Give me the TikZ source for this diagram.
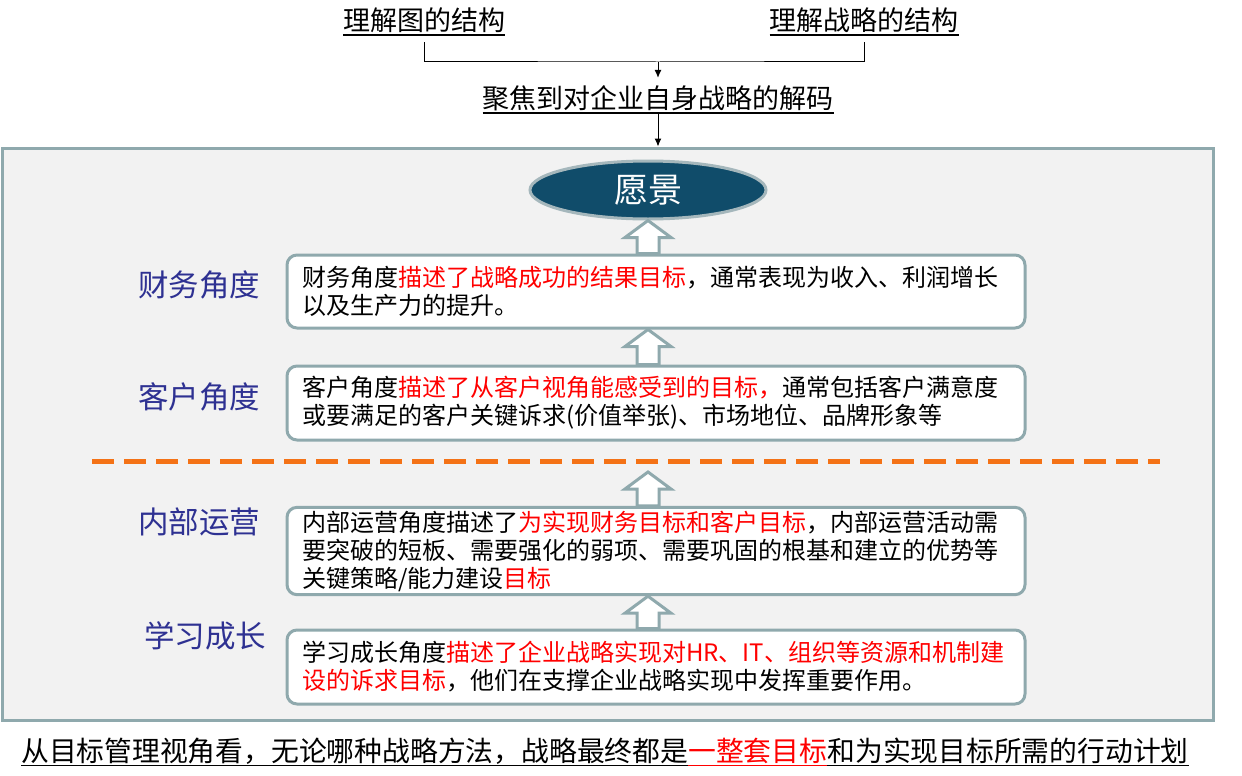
\documentclass[tikz,border=0pt]{standalone}
\usepackage{fontspec}
\setmainfont{Noto Sans CJK SC}
\usetikzlibrary{shapes.geometric,arrows.meta,calc}

\definecolor{marco}{RGB}{143,169,173}
\definecolor{fondo}{RGB}{242,242,242}
\definecolor{vision}{RGB}{16,76,106}
\definecolor{bordevision}{RGB}{165,183,188}
\definecolor{azul}{RGB}{46,49,146}
\definecolor{naranja}{RGB}{244,114,22}

\newcommand{\subr}[1]{\leavevmode\setbox0\hbox{#1}\rlap{\rule[-5pt]{\wd0}{1.6pt}}\box0}
\newcommand{\rojo}[1]{\textcolor{red}{#1}}
\newcommand{\flechahueca}[2]{%
  \draw[hueca] let \p1=(#1), \p2=(#2) in
    (\x1-11pt,\y1) -- (\x1-11pt,\y2-17pt) -- (\x1-23pt,\y2-17pt) -- (\x1,\y2)
    -- (\x1+23pt,\y2-17pt) -- (\x1+11pt,\y2-17pt) -- (\x1+11pt,\y1) -- cycle;}

\begin{document}
\begin{tikzpicture}[
  x=1pt,
  y=-1pt,
  titulo/.style={inner sep=0pt, font=\fontsize{27}{30}\selectfont},
  angulo/.style={azul, font=\fontsize{30.5}{34}\selectfont},
  caja/.style={
    draw=marco,
    line width=3pt,
    fill=white,
    rounded corners=10pt,
    text width=708pt,
    inner xsep=15pt,
    align=left,
    font=\fontsize{24}{28}\selectfont
  },
  hueca/.style={draw=marco, line width=3pt, fill=white},
  flecha/.style={-{Latex[length=8pt,width=7pt]}, line width=1pt},
  corte/.style={naranja, line width=5pt, dash pattern=on 22pt off 10pt}
]
\useasboundingbox (0,0) rectangle (1242,776);

%--------------------
% Panel de fondo
%--------------------
\node[draw=marco, line width=3pt, fill=fondo, inner sep=0pt,
  minimum width=1211pt, minimum height=572pt] (panel) at (607.5,434) {};

%--------------------
% Encabezado
%--------------------
\node[titulo] (grafico) at (424,22) {\subr{理解图的结构}};
\node[titulo] (estrategia) at (864,22) {\subr{理解战略的结构}};
\node[titulo] (decodificar) at (658,100) {\subr{聚焦到对企业自身战略的解码}};

\coordinate (union) at (decodificar.north |- 0,62);
\draw[line width=1pt] ([yshift=-6pt]grafico.south) |- (union) -| ([yshift=-6pt]estrategia.south);
\draw[flecha, shorten >=8pt] (union) -- (decodificar.north);
\draw[flecha] (decodificar.south) -- (decodificar.south |- panel.north);

%--------------------
% Visión
%--------------------
\node[ellipse, draw=bordevision, line width=3pt, fill=vision, text=white,
  minimum width=236pt, minimum height=58pt,
  font=\fontsize{34}{38}\selectfont] (vision) at (648,190) {愿景};

%--------------------
% Cajas de las perspectivas
%--------------------
\node[caja, minimum height=73pt] (finanzas) at (656,291.5)
  {财务角度\rojo{描述了战略成功的结果目标}，通常表现为收入、利润增长\\以及生产力的提升。};
\node[caja, minimum height=74pt] (clientes) at (656,403)
  {客户角度\rojo{描述了从客户视角能感受到的目标，}通常包括客户满意度\\或要满足的客户关键诉求(价值举张)、市场地位、品牌形象等};
\node[caja, minimum height=82pt] (procesos) at (656,551)
  {内部运营角度描述了\rojo{为实现财务目标和客户目标}，内部运营活动需\\要突破的短板、需要强化的弱项、需要巩固的根基和建立的优势等\\关键策略/能力建设\rojo{目标}};
\node[caja, minimum height=74pt] (aprendizaje) at (656,667)
  {学习成长角度\rojo{描述了企业战略实现对HR、IT、组织等资源和机制建}\\\rojo{设的诉求目标}，他们在支撑企业战略实现中发挥重要作用。};

%--------------------
% Etiquetas a la izquierda
%--------------------
\node[angulo] (lfin) at (199,285) {财务角度};
\node[angulo] (lcli) at (199,397) {客户角度};
\node[angulo] (lpro) at (199,522) {内部运营};
\node[angulo] (lapr) at (205,636) {学习成长};

%--------------------
% Línea de corte
%--------------------
\coordinate (corteA) at (92,461);
\coordinate (corteB) at (1160,461);
\coordinate (tope) at (648,472);
\draw[corte] (corteA) -- (corteB);

%--------------------
% Flechas huecas
%--------------------
\flechahueca{finanzas.north -| vision}{vision.south}
\flechahueca{clientes.north -| vision}{finanzas.south}
\flechahueca{procesos.north -| vision}{tope}
\flechahueca{aprendizaje.north -| vision}{procesos.south}

%--------------------
% Conclusión
%--------------------
\node[titulo, font=\fontsize{27.8}{30}\selectfont] (conclusion) at (605,752)
  {\subr{从目标管理视角看，无论哪种战略方法，战略最终都是}\rojo{\subr{一整套目标}}\subr{和为实现目标所需的行动计划}};

\end{tikzpicture}
\end{document}
